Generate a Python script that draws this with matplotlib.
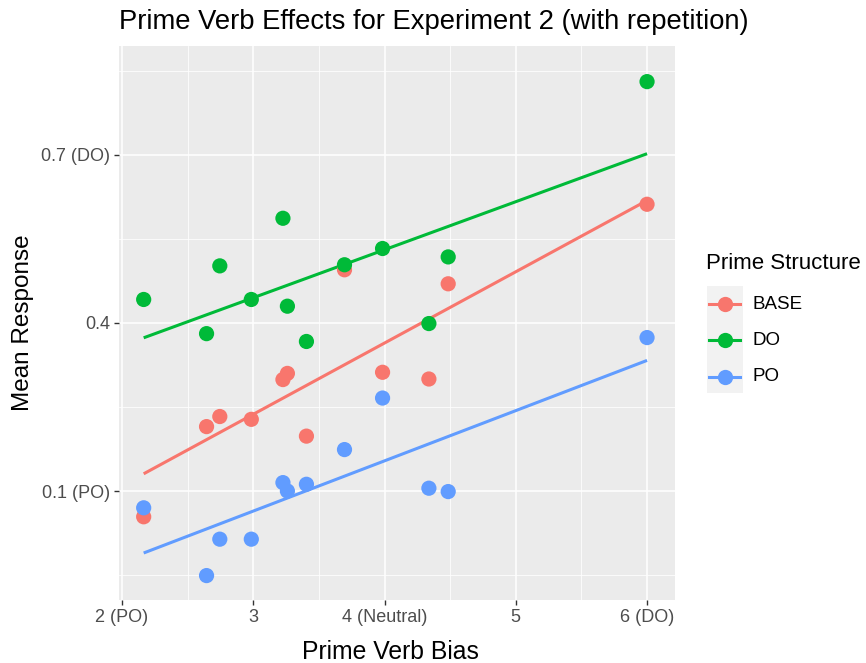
import numpy as np
import matplotlib.pyplot as plt
from matplotlib.lines import Line2D
from matplotlib.patches import Rectangle

plt.rcParams['font.family'] = ['Liberation Sans', 'DejaVu Sans']

# verb bias (x) and mean response per prime structure
bias = [2.165, 2.644, 2.745, 2.985, 3.226, 3.26, 3.405, 3.695, 3.985, 4.338, 4.485, 6.0]
base = [0.054, 0.215, 0.233, 0.228, 0.299, 0.310, 0.198, 0.495, 0.312, 0.300, 0.470, 0.612]
do = [0.442, 0.381, 0.502, 0.442, 0.587, 0.430, 0.367, 0.504, 0.533, 0.399, 0.518, 0.831]
po = [0.070, -0.051, 0.014, 0.014, 0.115, 0.100, 0.112, 0.174, 0.266, 0.105, 0.099, 0.374]

groups = ['BASE', 'DO', 'PO']
colors = ['#F8766D', '#00BA38', '#619CFF']
series = [base, do, po]

xticks = [2, 3, 4, 5, 6]
xlabels = ['2 (PO)', '3', '4 (Neutral)', '5', '6 (DO)']
yticks = [0.1, 0.4, 0.7]
ylabels = ['0.1 (PO)', '0.4', '0.7 (DO)']

W, H = 866, 663
fig = plt.figure(figsize=(W / 100, H / 100), dpi=100)
ax = fig.add_axes([119 / W, 1 - 600 / H, 556 / W, 554 / H])
ax.set_facecolor('#EBEBEB')
for s in ax.spines.values():
    s.set_visible(False)

ax.set_xlim(1.977, 6.213)
ax.set_ylim(-0.0946, 0.8946)
ax.set_xticks(xticks)
ax.set_xticklabels(xlabels)
ax.set_yticks(yticks)
ax.set_yticklabels(ylabels)
ax.set_xticks([2.5, 3.5, 4.5, 5.5], minor=True)
ax.set_yticks([-0.05, 0.25, 0.55, 0.85], minor=True)
ax.grid(which='major', color='white', lw=1.1)
ax.grid(which='minor', color='white', lw=0.55)
ax.set_axisbelow(True)
ax.tick_params(which='major', length=3.5, width=1.0, color='#333333',
               labelcolor='#4D4D4D', labelsize=13, pad=3)
ax.tick_params(which='minor', length=0)

x = np.array(bias)
for name, col, ys in zip(groups, colors, series):
    y = np.array(ys)
    k, b = np.polyfit(x, y, 1)
    xs = np.array([x.min(), x.max()])
    ax.plot(xs, k * xs + b, color=col, lw=2.2, solid_capstyle='butt', zorder=2)
    ax.scatter(x, y, s=120, color=col, edgecolors='none', zorder=3)

ax.set_xlabel('Prime Verb Bias', fontsize=17.8, color='black')
ax.xaxis.set_label_coords(0.488, -0.072)
ax.set_ylabel('Mean Response', fontsize=17.5, color='black', labelpad=5)
fig.text(119 / W, 1 - 22 / H, 'Prime Verb Effects for Experiment 2 (with repetition)',
         fontsize=19.7, ha='left', va='center')

# legend
fig.text(706 / W, 1 - 264 / H, 'Prime Structure', fontsize=16, ha='left', va='center')
fig.add_artist(Rectangle((706.5 / W, 1 - 393 / H), 36 / W, 107 / H,
                         transform=fig.transFigure, facecolor='#F2F2F2', edgecolor='none'))
for i, (name, col) in enumerate(zip(groups, colors)):
    yc = 1 - (304.5 + i * 36) / H
    fig.add_artist(Line2D([709 / W, 740 / W], [yc, yc], transform=fig.transFigure,
                          color=col, lw=2.2))
    fig.add_artist(Line2D([724.5 / W], [yc], transform=fig.transFigure, marker='o',
                          markersize=11, color=col, markeredgewidth=0))
    fig.text(752 / W, yc, name, fontsize=13.5, ha='left', va='center')

fig.savefig('out.png', dpi=100)
